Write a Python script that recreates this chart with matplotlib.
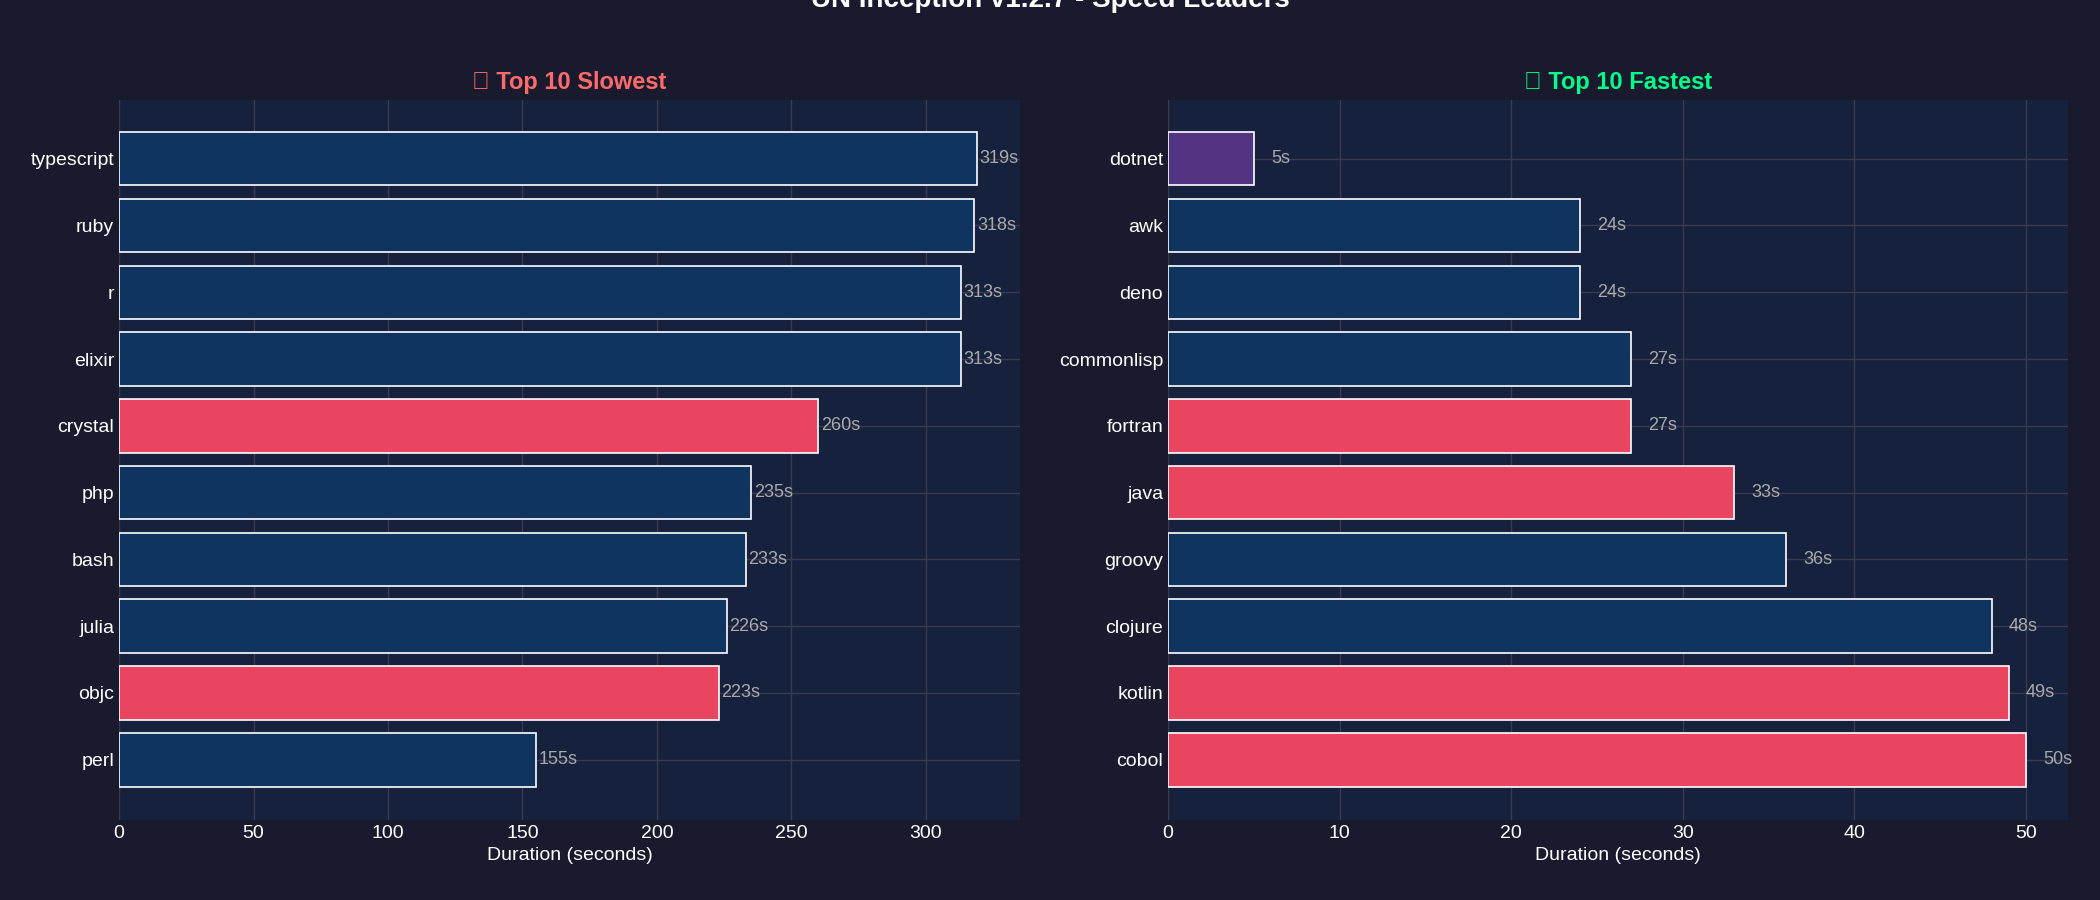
import matplotlib.pyplot as plt

slow_langs = ['typescript', 'ruby', 'r', 'elixir', 'crystal', 'php', 'bash', 'julia', 'objc', 'perl']
slow_times = [319, 318, 313, 313, 260, 235, 233, 226, 223, 155]
slow_colors = ['#0f3460'] * 4 + ['#e94560'] + ['#0f3460'] * 3 + ['#e94560', '#0f3460']

fast_langs = ['dotnet', 'awk', 'deno', 'commonlisp', 'fortran', 'java', 'groovy', 'clojure', 'kotlin', 'cobol']
fast_times = [5, 24, 24, 27, 27, 33, 36, 48, 49, 50]
fast_colors = ['#533483', '#0f3460', '#0f3460', '#0f3460', '#e94560', '#e94560',
               '#0f3460', '#0f3460', '#e94560', '#e94560']

plt.rcParams['font.family'] = ['Liberation Sans', 'DejaVu Sans']
fig = plt.figure(figsize=(21, 9), dpi=100, facecolor='#1a1a2e')
fig.text(0.5, 1.0, 'UN Inception v1.2.7 - Speed Leaders', ha='center', va='center',
         color='white', fontsize=20, fontweight='bold')

def panel(rect, langs, times, colors, xmax, ticks, title, tcolor, off):
    ax = fig.add_axes(rect, facecolor='#16213e')
    y = list(range(len(langs)))
    ax.barh(y, times, color=colors, edgecolor='white', linewidth=1.2, height=0.8)
    for yi, t in zip(y, times):
        ax.text(t + off, yi, f'{t}s', color='#aaaaaa', fontsize=13, va='center')
    ax.set_ylim(9.9, -0.88)
    ax.set_xlim(0, xmax)
    ax.set_yticks(y)
    ax.set_yticklabels(langs)
    ax.set_xticks(ticks)
    ax.tick_params(colors='white', labelsize=14, length=0)
    ax.grid(True, color='#3a3a4a', linewidth=1)
    ax.set_axisbelow(True)
    for s in ax.spines.values():
        s.set_visible(False)
    ax.set_xlabel('Duration (seconds)', color='white', fontsize=14)
    ax.set_title(title, color=tcolor, fontsize=17, fontweight='bold', pad=8)

panel([0.0567, 0.089, 0.429, 0.8], slow_langs, slow_times, slow_colors, 335,
      [0, 50, 100, 150, 200, 250, 300], '\u2b1c Top 10 Slowest', '#ff6b6b', 1)
panel([0.5562, 0.089, 0.4286, 0.8], fast_langs, fast_times, fast_colors, 52.45,
      [0, 10, 20, 30, 40, 50], '\u2b1c Top 10 Fastest', '#00ff88', 1)

fig.savefig('out.png', facecolor=fig.get_facecolor())
